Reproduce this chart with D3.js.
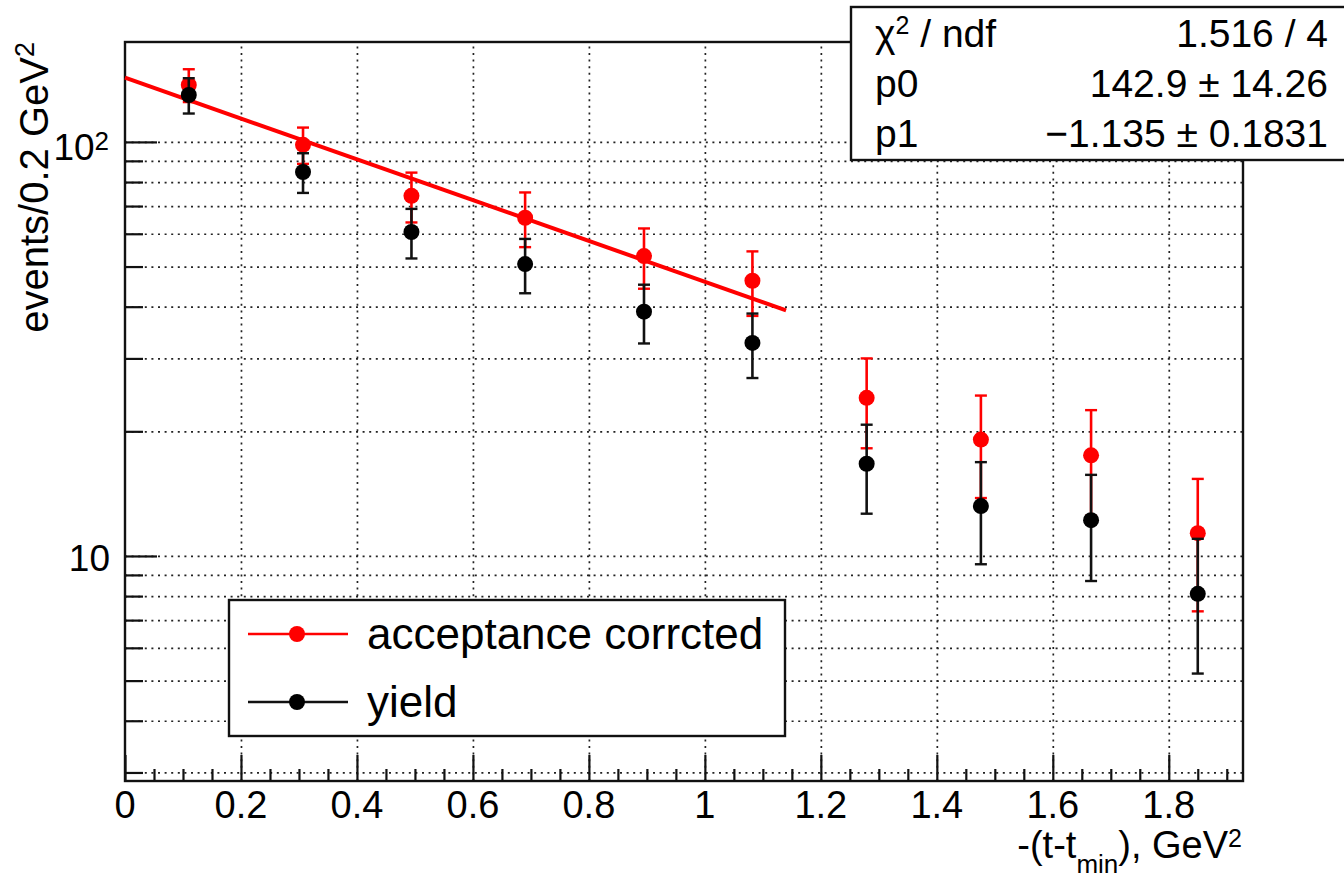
<!DOCTYPE html>
<html>
<head>
<meta charset="utf-8">
<script src="https://cdn.jsdelivr.net/npm/d3@7"></script>
<style>
body { margin: 0; background: #fff; }
text { font-family: "Liberation Sans", Arial, Helvetica, sans-serif; fill: #000; }
</style>
</head>
<body>
<svg id="chart"></svg>
<script>
// bin centres, -(t-tmin) in GeV^2
const tBins = [0.110, 0.307, 0.494, 0.690, 0.895, 1.082, 1.279, 1.476, 1.666, 1.850];
const corrected = [137.3, 98.4, 74.1, 65.6, 53.0, 46.2, 24.1, 19.1, 17.5, 11.35];
const correctedErr = [12.5, 9.9, 10.2, 9.9, 8.8, 8.2, 5.9, 5.3, 5.0, 4.0];
const yieldVals = [129.8, 84.6, 60.6, 50.7, 38.9, 32.7, 16.7, 13.2, 12.2, 8.1];
const yieldErr = [12.7, 9.3, 8.3, 7.6, 6.3, 5.8, 4.05, 3.65, 3.5, 2.9];
// fit curve end points (expo, straight on log scale)
const fitLine = [[0, 142.9], [1.14, 39.2]];

const xTicks = [0, 0.2, 0.4, 0.6, 0.8, 1, 1.2, 1.4, 1.6, 1.8];
const xMinor = d3.range(0.05, 1.93, 0.05).filter(v => Math.abs(v * 5 - Math.round(v * 5)) > 1e-6);
const yMajor = [10, 100];
const yMinor = [3, 4, 5, 6, 7, 8, 9, 20, 30, 40, 50, 60, 70, 80, 90];
const legendLabels = ["acceptance corrcted", "yield"];
const statNames = ["ndf", "p0", "p1"];
const statValues = ["1.516 / 4", "142.9 \u00b1 14.26", "\u22121.135 \u00b1 0.1831"];

const W = 1344, H = 881;
const pLeft = 125, pRight = 1243, pTop = 42, pBottom = 781;

const svg = d3.select('#chart')
  .attr('width', W)
  .attr('height', H)
  .attr('viewBox', [0, 0, W, H]);

svg.append('rect').attr('width', W).attr('height', H).attr('fill', '#fff');

const x = d3.scaleLinear().domain([0, 1.928]).range([pLeft, pRight]);
const y = d3.scaleLog().domain([2.861, 174.3]).range([pBottom, pTop]);

const grid = svg.append('g');
// vertical grid
grid.append('g')
  .attr('transform', `translate(0,${pBottom})`)
  .call(d3.axisBottom(x).tickValues(xTicks.slice(1)).tickSize(-(pBottom - pTop)).tickFormat(''))
  .call(g => g.select('.domain').remove());
// horizontal grid
grid.append('g')
  .attr('transform', `translate(${pLeft},0)`)
  .call(d3.axisLeft(y).tickValues(yMajor.concat(yMinor)).tickSize(-(pRight - pLeft)).tickFormat(''))
  .call(g => g.select('.domain').remove());
grid.selectAll('line')
  .attr('stroke', '#222')
  .attr('stroke-width', 1.7)
  .attr('stroke-dasharray', '2,4.6');

// ticks
const tickG = svg.append('g');
tickG.append('g').attr('transform', `translate(0,${pBottom})`)
  .call(d3.axisBottom(x).tickValues(xTicks).tickSize(-26).tickFormat(''));
tickG.append('g').attr('transform', `translate(0,${pBottom})`)
  .call(d3.axisBottom(x).tickValues(xMinor).tickSize(-12).tickFormat(''));
tickG.append('g').attr('transform', `translate(${pLeft},0)`)
  .call(d3.axisLeft(y).tickValues(yMajor).tickSize(-32).tickFormat(''));
tickG.append('g').attr('transform', `translate(${pLeft},0)`)
  .call(d3.axisLeft(y).tickValues(yMinor).tickSize(-18).tickFormat(''));
tickG.selectAll('.domain').remove();
tickG.selectAll('line').attr('stroke', '#111').attr('stroke-width', 2.2);

// x tick labels
svg.append('g').selectAll('text')
  .data(xTicks)
  .enter()
  .append('text')
  .attr('x', d => x(d))
  .attr('y', 818)
  .attr('text-anchor', 'middle')
  .attr('font-size', 38)
  .text(d => String(+d.toFixed(1)));

// y tick labels
svg.append('text')
  .attr('x', 110).attr('y', y(10) + 15)
  .attr('text-anchor', 'end').attr('font-size', 37)
  .text('10');
const l100 = svg.append('text')
  .attr('x', 109).attr('y', y(100) + 18)
  .attr('text-anchor', 'end').attr('font-size', 37);
l100.append('tspan').text('10');
l100.append('tspan').attr('font-size', 26).attr('dy', -10).text('2');

// frame
svg.append('rect')
  .attr('x', pLeft).attr('y', pTop)
  .attr('width', pRight - pLeft).attr('height', pBottom - pTop)
  .attr('fill', 'none').attr('stroke', '#111').attr('stroke-width', 2.4);

// axis titles
const xt = svg.append('text')
  .attr('x', 1242).attr('y', 858)
  .attr('text-anchor', 'end').attr('font-size', 38);
xt.append('tspan').text('-(t-t');
xt.append('tspan').attr('font-size', 26).attr('dy', 15).text('min');
xt.append('tspan').attr('dy', -15).text('), GeV');
xt.append('tspan').attr('font-size', 25).attr('dy', -11).text('2');

const yt = svg.append('text')
  .attr('transform', 'translate(48,42) rotate(-90)')
  .attr('text-anchor', 'end').attr('font-size', 40);
yt.append('tspan').text('events/0.2 GeV');
yt.append('tspan').attr('font-size', 27).attr('dy', -14).text('2');

// error bars + markers
function drawSeries(vals, errs, color) {
  const g = svg.append('g');
  const pts = tBins.map((t, i) => ({ t, v: vals[i], e: errs[i] }));
  g.selectAll('.bar').data(pts).enter().append('line')
    .attr('x1', d => x(d.t)).attr('x2', d => x(d.t))
    .attr('y1', d => y(d.v + d.e)).attr('y2', d => y(d.v - d.e))
    .attr('stroke', color).attr('stroke-width', 2.6);
  ['up', 'dn'].forEach(k => {
    g.selectAll('.cap' + k).data(pts).enter().append('line')
      .attr('x1', d => x(d.t) - 6).attr('x2', d => x(d.t) + 6)
      .attr('y1', d => y(k === 'up' ? d.v + d.e : d.v - d.e))
      .attr('y2', d => y(k === 'up' ? d.v + d.e : d.v - d.e))
      .attr('stroke', color).attr('stroke-width', 2.4);
  });
  return { g, pts };
}

const red = drawSeries(corrected, correctedErr, '#ff0000');
red.g.selectAll('circle').data(red.pts).enter().append('circle')
  .attr('cx', d => x(d.t)).attr('cy', d => y(d.v)).attr('r', 8)
  .attr('fill', '#ff0000');

// fit
svg.append('path')
  .datum(fitLine)
  .attr('d', d3.line().x(d => x(d[0])).y(d => y(d[1])))
  .attr('fill', 'none').attr('stroke', '#ff0000').attr('stroke-width', 4);

const blk = drawSeries(yieldVals, yieldErr, '#111');
blk.g.selectAll('circle').data(blk.pts).enter().append('circle')
  .attr('cx', d => x(d.t)).attr('cy', d => y(d.v)).attr('r', 8)
  .attr('fill', '#000');

// legend
const leg = svg.append('g');
leg.append('rect')
  .attr('x', 229).attr('y', 600).attr('width', 556).attr('height', 136)
  .attr('fill', '#fff').attr('stroke', '#111').attr('stroke-width', 2.4);
const legColors = ['#ff0000', '#111'];
legendLabels.forEach((lab, i) => {
  const cy = 634 + i * 68;
  leg.append('line').attr('x1', 248).attr('x2', 348).attr('y1', cy).attr('y2', cy)
    .attr('stroke', legColors[i]).attr('stroke-width', 2.4);
  leg.append('circle').attr('cx', 297).attr('cy', cy).attr('r', 8).attr('fill', i ? '#000' : '#ff0000');
  leg.append('text').attr('x', 367).attr('y', cy + 15).attr('font-size', 44).text(lab);
});

// stats box
const st = svg.append('g');
st.append('rect')
  .attr('x', 851).attr('y', 7).attr('width', 510).attr('height', 153)
  .attr('fill', '#fff').attr('stroke', '#111').attr('stroke-width', 2.4);
statNames.forEach((n, i) => {
  const by = 47 + i * 50;
  const t = st.append('text').attr('x', 875).attr('y', by).attr('font-size', 39);
  if (i === 0) {
    t.append('tspan').text('\u03c7');
    t.append('tspan').attr('font-size', 25).attr('dy', -13).text('2');
    t.append('tspan').attr('dy', 13).text(' / ndf');
  } else {
    t.text(n);
  }
  st.append('text').attr('x', 1328).attr('y', by).attr('text-anchor', 'end')
    .attr('font-size', 39).text(statValues[i]);
});
</script>
</body>
</html>
